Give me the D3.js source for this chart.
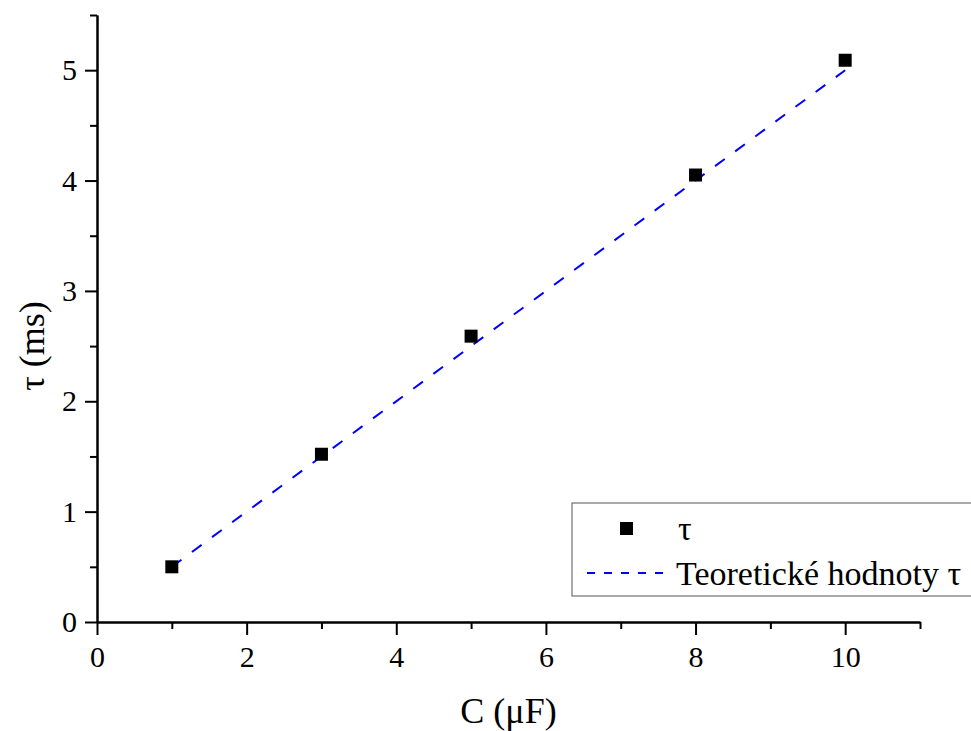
<!DOCTYPE html>
<html>
<head>
<meta charset="utf-8">
<script src="https://cdn.jsdelivr.net/npm/d3@7"></script>
<style>
    body { margin: 0; background: #fff; }
    text { font-family: "Liberation Serif", "Times New Roman", serif; fill: #000; }
</style>
</head>
<body>
<div class="canvas"></div>
<script>
// measured values
const capacitance = [1, 3, 5, 8, 10];
const tauMeasured = [0.5, 1.52, 2.59, 4.05, 5.09];
// theoretical values tau = R*C
const tauTheory = [0.5, 1.5, 2.5, 4.0, 5.0];

const xTicks = [0, 2, 4, 6, 8, 10];
const yTicks = [0, 1, 2, 3, 4, 5];
const xMinor = [1, 3, 5, 7, 9, 11];
const yMinor = [0.5, 1.5, 2.5, 3.5, 4.5, 5.5];

const xLabel = "C (μF)";
const yLabel = "τ (ms)";
const legendLabels = ["τ", "Teoretické hodnoty τ"];

let margin = { left: 97, right: 51, top: 15, bottom: 109 };
let width = 971, height = 731;
let chartDims = {
    width: width - margin.left - margin.right,
    height: height - margin.top - margin.bottom,
};
const serif = "Liberation Serif, Times New Roman, serif";

const svg = d3
    .select(".canvas")
    .append("svg")
    .attr("width", width)
    .attr("height", height);

const chart = svg
    .append("g")
    .attr("transform", `translate(${margin.left},${margin.top})`);

const x = d3.scaleLinear().domain([0, 11]).range([0, chartDims.width]);
const y = d3.scaleLinear().domain([0, 5.5]).range([chartDims.height, 0]);

// minor ticks (own groups so the major axis does not drop them)
chart.append("g")
    .attr("transform", `translate(0,${chartDims.height})`)
    .call(d3.axisBottom(x).tickValues(xMinor).tickSize(7).tickFormat("").tickSizeOuter(0));
chart.append("g")
    .call(d3.axisLeft(y).tickValues(yMinor).tickSize(7).tickFormat("").tickSizeOuter(0));

// major axes
const xAxisGroup = chart
    .append("g")
    .attr("transform", `translate(0,${chartDims.height})`)
    .call(
        d3.axisBottom(x).tickValues(xTicks).tickSize(13).tickPadding(11)
            .tickSizeOuter(0).tickFormat(d3.format("d"))
    );

const yAxisGroup = chart.append("g")
    .call(
        d3.axisLeft(y).tickValues(yTicks).tickSize(12).tickPadding(8)
            .tickSizeOuter(0).tickFormat(d3.format("d"))
    );

chart.selectAll(".domain").attr("stroke", "#000").attr("stroke-width", 2);
chart.selectAll(".tick line").attr("stroke", "#000").attr("stroke-width", 2);
[xAxisGroup, yAxisGroup].forEach((g) =>
    g.attr("font-family", serif).attr("font-size", 30)
);
chart.selectAll(".tick text")
    .style("font-size", "30px")
    .style("font-family", serif);

// theoretical line
const lineGen = d3
    .line()
    .x((d, i) => x(capacitance[i]))
    .y((d) => y(d));

chart.append("path")
    .datum(tauTheory)
    .attr("d", lineGen)
    .attr("fill", "none")
    .attr("stroke", "#0000ff")
    .attr("stroke-width", 2)
    .attr("stroke-dasharray", "12,13");

// measured points
const sq = 13;
chart.selectAll("rect.pt")
    .data(tauMeasured)
    .enter()
    .append("rect")
    .attr("class", "pt")
    .attr("x", (d, i) => x(capacitance[i]) - sq / 2)
    .attr("y", (d) => y(d) - sq / 2)
    .attr("width", sq)
    .attr("height", sq)
    .attr("fill", "#000");

// axis titles
svg.append("text")
    .attr("x", margin.left + x(5.5))
    .attr("y", 723)
    .attr("text-anchor", "middle")
    .style("font-size", "36px")
    .text(xLabel);

svg.append("text")
    .attr("transform", `translate(44,${margin.top + y(2.5)}) rotate(-90)`)
    .attr("text-anchor", "middle")
    .style("font-size", "36px")
    .text(yLabel);

// legend
const legend = svg.append("g").attr("transform", "translate(572,503)");
legend.append("rect")
    .attr("width", 440)
    .attr("height", 93)
    .attr("fill", "#fff")
    .attr("stroke", "#555")
    .attr("stroke-width", 1);

legend.append("rect")
    .attr("x", 48)
    .attr("y", 19)
    .attr("width", 13)
    .attr("height", 13)
    .attr("fill", "#000");
legend.append("text")
    .attr("x", 106)
    .attr("y", 37)
    .style("font-size", "34px")
    .text(legendLabels[0]);

legend.append("line")
    .attr("x1", 15)
    .attr("x2", 92)
    .attr("y1", 70)
    .attr("y2", 70)
    .attr("stroke", "#0000ff")
    .attr("stroke-width", 2)
    .attr("stroke-dasharray", "8,9");
legend.append("text")
    .attr("x", 104)
    .attr("y", 82)
    .style("font-size", "34px")
    .text(legendLabels[1]);
</script>
</body>
</html>
